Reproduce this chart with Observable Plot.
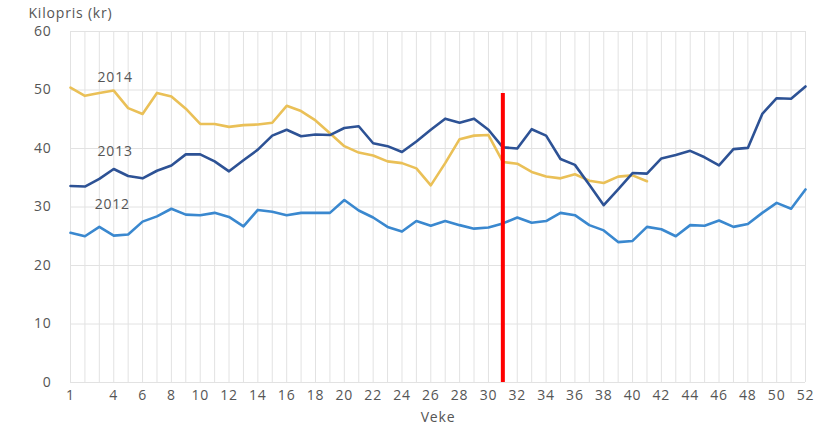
<!DOCTYPE html>
<html>
<head>
<meta charset="utf-8">
<script src="https://cdn.jsdelivr.net/npm/d3@7"></script>
<script src="https://cdn.jsdelivr.net/npm/@observablehq/plot@0.6"></script>
<style>
  html, body { margin: 0; padding: 0; background: #fff; }
  svg text { letter-spacing: 0.8px; }
</style>
</head>
<body>
<div id="chart"></div>
<script>
const weeks = [1,2,3,4,5,6,7,8,9,10,11,12,13,14,15,16,17,18,19,20,21,22,23,24,25,26,27,28,29,30,31,32,33,34,35,36,37,38,39,40,41,42,43,44,45,46,47,48,49,50,51,52];

const years = ["2014", "2012", "2013"];

const price2014 = [50.4,49.0,49.5,49.9,46.9,45.9,49.5,48.9,46.8,44.2,
                   44.2,43.7,44.0,44.1,44.4,47.3,46.4,44.8,42.6,40.4,
                   39.3,38.8,37.8,37.5,36.6,33.7,37.5,41.6,42.2,42.3,
                   37.7,37.4,36.0,35.2,34.9,35.6,34.5,34.1,35.2,35.4,34.4];

const price2013 = [33.6,33.5,34.8,36.5,35.3,34.9,36.2,37.1,39.0,39.0,
                   37.8,36.1,38.0,39.8,42.2,43.2,42.1,42.4,42.3,43.5,
                   43.8,40.9,40.4,39.4,41.2,43.2,45.1,44.4,45.1,43.2,
                   40.2,40.0,43.3,42.2,38.2,37.2,33.8,30.3,33.0,35.8,
                   35.7,38.3,38.9,39.6,38.5,37.1,39.9,40.1,45.9,48.6,48.5,50.6];

const price2012 = [25.6,25.0,26.6,25.1,25.3,27.5,28.4,29.7,28.7,28.6,
                   29.0,28.3,26.7,29.5,29.2,28.6,29.0,29.0,29.0,31.2,
                   29.4,28.2,26.6,25.8,27.6,26.8,27.6,26.9,26.3,26.5,
                   27.2,28.2,27.3,27.6,29.0,28.6,26.9,26.0,24.0,24.2,
                   26.6,26.2,25.0,26.9,26.8,27.7,26.6,27.1,29.0,30.7,29.7,33.0];

const xTickLabels = [1,4,6,8,10,12,14,16,18,20,22,24,26,28,30,32,34,36,38,40,42,44,46,48,50,52];
const yTickLabels = [0,10,20,30,40,50,60];

const seriesColors = {"2014": "#eac057", "2013": "#2d5295", "2012": "#3a88cf"};

// direct labels for series
const labelYears = ["2014", "2013", "2012"];
const labelWeeks = [4.1, 4.1, 3.9];
const labelValues = [52.2, 39.4, 30.4];

// red marker (current week)
const markerWeek = [31];
const markerTop = 49.4;

const seriesValues = {"2014": price2014, "2013": price2013, "2012": price2012};
const table = years.flatMap(yr => seriesValues[yr].map((v, i) => ({year: yr, week: weeks[i], value: v})));
const labels = labelYears.map((yr, i) => ({year: yr, week: labelWeeks[i], value: labelValues[i]}));

const chart = Plot.plot({
  width: 825,
  height: 424,
  marginLeft: 70,
  marginRight: 20,
  marginTop: 31,
  marginBottom: 42,
  style: {fontFamily: "'Open Sans', sans-serif", fontSize: "14px", color: "#555", background: "#fff"},
  x: {domain: [1, 52]},
  y: {domain: [0, 60]},
  marks: [
    Plot.gridX(weeks, {stroke: "#e2e2e2", strokeOpacity: 1, strokeWidth: 1}),
    Plot.gridY(yTickLabels, {stroke: "#e2e2e2", strokeOpacity: 1, strokeWidth: 1}),
    Plot.axisX(xTickLabels, {tickSize: 0, tickPadding: 8, label: "Veke", labelAnchor: "center", labelArrow: "none", labelOffset: 39, fill: "#555"}),
    Plot.axisY(yTickLabels, {tickSize: 0, tickPadding: 19, label: null, fill: "#555"}),
    Plot.line(table, {x: "week", y: "value", z: "year", stroke: d => seriesColors[d.year], strokeWidth: 2.6, strokeLinejoin: "round", strokeLinecap: "round"}),
    Plot.ruleX(markerWeek, {y1: 0, y2: markerTop, stroke: "#ff0000", strokeWidth: 4}),
    Plot.text(labels, {x: "week", y: "value", text: "year", fill: "#555", fontSize: 14}),
    Plot.text(["Kilopris (kr)"], {frameAnchor: "top-left", dx: -42, dy: -23, textAnchor: "start", fill: "#555", fontSize: 14})
  ]
});
document.getElementById("chart").appendChild(chart);
</script>
</body>
</html>
